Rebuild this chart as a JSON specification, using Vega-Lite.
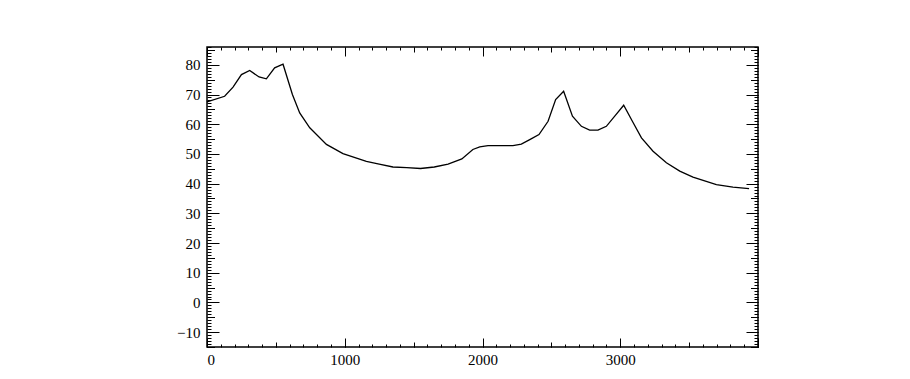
{
  "$schema": "https://vega.github.io/schema/vega-lite/v6.json",
  "width": 551,
  "height": 300,
  "autosize": {"type": "none"},
  "padding": {"left": 207, "top": 47, "right": 152, "bottom": 32},
  "background": "white",
  "config": {
    "view": {"stroke": "black", "strokeWidth": 1.5},
    "axis": {"domain": false, "grid": false, "title": null, "labelFont": "Liberation Serif", "labelFontSize": 15, "labelColor": "black", "tickColor": "black", "tickWidth": 1, "format": "d"}
  },
  "data": {"values": [
    {"x": 0, "y": 67.5}, {"x": 128, "y": 69.4}, {"x": 189, "y": 72.5}, {"x": 250, "y": 76.7},
    {"x": 310, "y": 78.1}, {"x": 378, "y": 75.9}, {"x": 431, "y": 75.3}, {"x": 491, "y": 79},
    {"x": 552, "y": 80.2}, {"x": 620, "y": 70}, {"x": 673, "y": 63.8}, {"x": 746, "y": 58.8},
    {"x": 867, "y": 53.2}, {"x": 987, "y": 50.1}, {"x": 1157, "y": 47.5}, {"x": 1250, "y": 46.6},
    {"x": 1350, "y": 45.6}, {"x": 1450, "y": 45.4}, {"x": 1550, "y": 45.1}, {"x": 1650, "y": 45.6},
    {"x": 1750, "y": 46.6}, {"x": 1850, "y": 48.3}, {"x": 1930, "y": 51.5}, {"x": 1980, "y": 52.4},
    {"x": 2040, "y": 52.8}, {"x": 2221, "y": 52.8}, {"x": 2282, "y": 53.3}, {"x": 2343, "y": 54.8},
    {"x": 2410, "y": 56.5}, {"x": 2476, "y": 61}, {"x": 2531, "y": 68.3}, {"x": 2589, "y": 71.1},
    {"x": 2653, "y": 62.7}, {"x": 2718, "y": 59.3}, {"x": 2778, "y": 58}, {"x": 2838, "y": 58},
    {"x": 2899, "y": 59.3}, {"x": 2960, "y": 62.7}, {"x": 3025, "y": 66.4}, {"x": 3088, "y": 61},
    {"x": 3154, "y": 55.4}, {"x": 3238, "y": 50.9}, {"x": 3335, "y": 47}, {"x": 3432, "y": 44.2},
    {"x": 3528, "y": 42.2}, {"x": 3698, "y": 39.7}, {"x": 3818, "y": 38.8}, {"x": 3935, "y": 38.3}
  ]},
  "layer": [
    {
      "mark": {"type": "line", "color": "black", "strokeWidth": 1.3},
      "encoding": {
        "x": {"field": "x", "type": "quantitative", "scale": {"domain": [0, 4000], "nice": false, "zero": false},
              "axis": {"orient": "bottom", "values": [0, 1000, 2000, 3000], "ticks": false, "labelPadding": 5}},
        "y": {"field": "y", "type": "quantitative", "scale": {"domain": [-15, 86], "nice": false, "zero": false},
              "axis": {"orient": "left", "values": [-10, 0, 10, 20, 30, 40, 50, 60, 70, 80], "ticks": false, "labelPadding": 7}}
      }
    },
    {
      "mark": {"type": "line", "strokeOpacity": 0},
      "encoding": {
        "x": {"field": "x", "type": "quantitative", "axis": {"orient": "bottom", "values": [0, 1000, 2000, 3000, 4000], "labels": false, "tickSize": -9}},
        "y": {"field": "y", "type": "quantitative", "axis": {"orient": "left", "values": [-10, 0, 10, 20, 30, 40, 50, 60, 70, 80], "labels": false, "tickSize": -12}}
      }
    },
    {
      "mark": {"type": "line", "strokeOpacity": 0},
      "encoding": {
        "x": {"field": "x", "type": "quantitative", "axis": {"orient": "bottom", "values": [500, 1500, 2500, 3500], "labels": false, "tickSize": -5}},
        "y": {"field": "y", "type": "quantitative", "axis": {"orient": "left", "values": [-15, -5, 5, 15, 25, 35, 45, 55, 65, 75, 85], "labels": false, "tickSize": -7.5}}
      }
    },
    {
      "mark": {"type": "line", "strokeOpacity": 0},
      "encoding": {
        "x": {"field": "x", "type": "quantitative", "axis": {"orient": "bottom", "values": [0,100,200,300,400,500,600,700,800,900,1000,1100,1200,1300,1400,1500,1600,1700,1800,1900,2000,2100,2200,2300,2400,2500,2600,2700,2800,2900,3000,3100,3200,3300,3400,3500,3600,3700,3800,3900,4000], "labels": false, "tickSize": -3}},
        "y": {"field": "y", "type": "quantitative", "axis": {"orient": "left", "values": [-15,-14,-13,-12,-11,-10,-9,-8,-7,-6,-5,-4,-3,-2,-1,0,1,2,3,4,5,6,7,8,9,10,11,12,13,14,15,16,17,18,19,20,21,22,23,24,25,26,27,28,29,30,31,32,33,34,35,36,37,38,39,40,41,42,43,44,45,46,47,48,49,50,51,52,53,54,55,56,57,58,59,60,61,62,63,64,65,66,67,68,69,70,71,72,73,74,75,76,77,78,79,80,81,82,83,84,85,86], "labels": false, "tickSize": -4}}
      }
    },
    {
      "mark": {"type": "line", "strokeOpacity": 0},
      "encoding": {
        "x": {"field": "x", "type": "quantitative", "axis": {"orient": "top", "values": [0, 1000, 2000, 3000, 4000], "labels": false, "tickSize": -9}},
        "y": {"field": "y", "type": "quantitative", "axis": {"orient": "right", "values": [-10, 0, 10, 20, 30, 40, 50, 60, 70, 80], "labels": false, "tickSize": -12}}
      }
    },
    {
      "mark": {"type": "line", "strokeOpacity": 0},
      "encoding": {
        "x": {"field": "x", "type": "quantitative", "axis": {"orient": "top", "values": [500, 1500, 2500, 3500], "labels": false, "tickSize": -5}},
        "y": {"field": "y", "type": "quantitative", "axis": {"orient": "right", "values": [-15, -5, 5, 15, 25, 35, 45, 55, 65, 75, 85], "labels": false, "tickSize": -7.5}}
      }
    },
    {
      "mark": {"type": "line", "strokeOpacity": 0},
      "encoding": {
        "x": {"field": "x", "type": "quantitative", "axis": {"orient": "top", "values": [0,100,200,300,400,500,600,700,800,900,1000,1100,1200,1300,1400,1500,1600,1700,1800,1900,2000,2100,2200,2300,2400,2500,2600,2700,2800,2900,3000,3100,3200,3300,3400,3500,3600,3700,3800,3900,4000], "labels": false, "tickSize": -3}},
        "y": {"field": "y", "type": "quantitative", "axis": {"orient": "right", "values": [-15,-14,-13,-12,-11,-10,-9,-8,-7,-6,-5,-4,-3,-2,-1,0,1,2,3,4,5,6,7,8,9,10,11,12,13,14,15,16,17,18,19,20,21,22,23,24,25,26,27,28,29,30,31,32,33,34,35,36,37,38,39,40,41,42,43,44,45,46,47,48,49,50,51,52,53,54,55,56,57,58,59,60,61,62,63,64,65,66,67,68,69,70,71,72,73,74,75,76,77,78,79,80,81,82,83,84,85,86], "labels": false, "tickSize": -4}}
      }
    }
  ],
  "resolve": {"axis": {"x": "independent", "y": "independent"}}
}
